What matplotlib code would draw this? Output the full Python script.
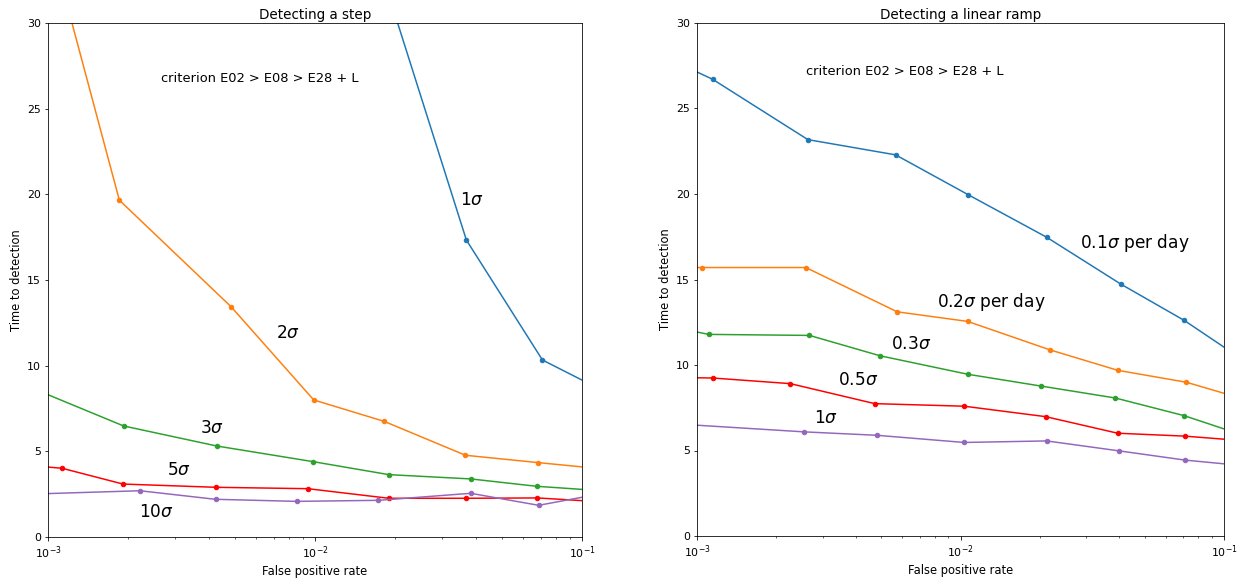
import matplotlib
matplotlib.use('Agg')
import matplotlib.pyplot as plt
import numpy as np

# --- Detecting a step (left panel) ---
step_labels = [r'$1\sigma$', r'$2\sigma$', r'$3\sigma$', r'$5\sigma$', r'$10\sigma$']
step_x = [
    [0.0191, 0.0369, 0.0711, 0.137],
    [0.0009, 0.00185, 0.00485, 0.00989, 0.01815, 0.0366, 0.0687, 0.138],
    [0.00089, 0.00192, 0.00429, 0.00982, 0.0189, 0.0383, 0.0676, 0.141],
    [0.00089, 0.00113, 0.00191, 0.00427, 0.0094, 0.0189, 0.0369, 0.0681, 0.141],
    [0.00089, 0.00221, 0.00424, 0.00855, 0.01726, 0.0383, 0.0688, 0.141],
]
step_y = [
    [31.4, 17.33, 10.33, 8.08],
    [37.9, 19.66, 13.44, 8.0, 6.75, 4.77, 4.34, 3.88],
    [8.63, 6.48, 5.31, 4.40, 3.64, 3.39, 2.96, 2.62],
    [4.15, 4.01, 3.09, 2.90, 2.82, 2.26, 2.26, 2.28, 1.98],
    [2.51, 2.70, 2.20, 2.08, 2.14, 2.55, 1.85, 2.75],
]
step_label_pos = [(0.0388, 19.68), (0.0079, 11.9), (0.0041, 6.34),
                  (0.0031, 3.91), (0.00255, 1.48)]

# --- Detecting a linear ramp (right panel) ---
ramp_labels = [r'$0.1\sigma$ per day', r'$0.2\sigma$ per day', r'$0.3\sigma$',
               r'$0.5\sigma$', r'$1\sigma$']
ramp_x = [
    [0.00071, 0.001146, 0.002635, 0.00567, 0.01072, 0.02124, 0.0406, 0.0706, 0.141],
    [0.0005, 0.001041, 0.002588, 0.00575, 0.01064, 0.0218, 0.0395, 0.0720, 0.141],
    [0.00071, 0.001107, 0.002672, 0.00495, 0.01064, 0.02018, 0.0387, 0.0705, 0.141],
    [0.00071, 0.001146, 0.00226, 0.00473, 0.01033, 0.02104, 0.0395, 0.0711, 0.141],
    [0.00056, 0.002547, 0.00481, 0.01033, 0.02124, 0.0399, 0.0711, 0.141],
]
ramp_y = [
    [28.2, 26.71, 23.18, 22.29, 19.95, 17.47, 14.73, 12.61, 9.5],
    [15.70, 15.70, 15.70, 13.11, 12.55, 10.89, 9.69, 8.99, 7.67],
    [12.4, 11.79, 11.73, 10.54, 9.46, 8.77, 8.07, 7.04, 5.5],
    [9.28, 9.24, 8.91, 7.74, 7.59, 6.98, 6.01, 5.84, 5.48],
    [6.72, 6.09, 5.89, 5.47, 5.56, 4.98, 4.44, 4.0],
]
ramp_label_pos = [(0.0457, 17.16), (0.0131, 13.66), (0.0065, 11.23),
                  (0.0041, 9.1), (0.0031, 6.89)]

colors = ['#1f77b4', '#ff7f0e', '#2ca02c', '#ff0000', '#9467bd']

fig = plt.figure(figsize=(1247/72, 584/72), dpi=72)
ax1 = fig.add_axes([48/1247, 1-537/584, (582-48)/1247, (537-23)/584])
ax2 = fig.add_axes([697/1247, 1-536/584, (1224-697)/1247, (536-23)/584])

def draw(ax, xs, ys, labels, label_pos, title, crit_pos):
    for x, y, c in zip(xs, ys, colors):
        ax.plot(x, y, '-o', color=c, lw=1.5, ms=4.5)
    for lab, (lx, ly) in zip(labels, label_pos):
        ax.text(lx, ly, lab, fontsize=17, ha='center', va='center')
    ax.text(crit_pos[0], crit_pos[1], 'criterion E02 > E08 > E28 + L',
            fontsize=13, ha='center', va='center')
    ax.set_xscale('log')
    ax.set_xlim(1e-3, 1e-1)
    ax.set_ylim(0, 30)
    ax.set_title(title, fontsize=13.5, pad=4)
    ax.set_xlabel('False positive rate', fontsize=11.5)
    ax.set_ylabel('Time to detection', fontsize=11.5)
    ax.tick_params(labelsize=11)

draw(ax1, step_x, step_y, step_labels, step_label_pos,
     'Detecting a step', (0.0062, 26.77))
draw(ax2, ramp_x, ramp_y, ramp_labels, ramp_label_pos,
     'Detecting a linear ramp', (0.00615, 27.19))

fig.savefig('out.png', dpi=72)
